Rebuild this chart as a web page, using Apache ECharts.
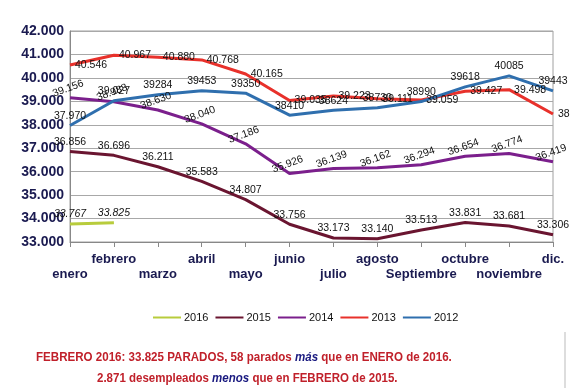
<!DOCTYPE html>
<html><head><meta charset="utf-8">
<script src="https://cdn.jsdelivr.net/npm/echarts@6/dist/echarts.min.js"></script>
<style>html,body{margin:0;padding:0;background:#fff}#c{width:570px;height:388px}</style>
</head><body><div id="c"></div>
<script>
const months = ['enero','febrero','marzo','abril','mayo','junio','julio','agosto','Septiembre','octubre','noviembre','dic.'];
const yTicks = [33000, 42000, 1000];
const s2016 = [33767, 33825];
const s2015 = [36856, 36696, 36211, 35583, 34807, 33756, 33173, 33140, 33513, 33831, 33681, 33306];
const s2014 = [39156, 38983, 38630, 38040, 37186, 35926, 36139, 36162, 36294, 36654, 36774, 36419];
const s2013 = [40546, 40967, 40880, 40768, 40165, 39035, 39223, 39111, 39059, 39427, 39498, 38459];
const s2012 = [37970, 39027, 39284, 39453, 39350, 38410, 38624, 38730, 38990, 39618, 40085, 39443];
const seriesNames = ['2016','2015','2014','2013','2012'];
const colors = ['#b8cc3c','#6a1530','#7b1f8c','#e8312b','#2f6fae'];

const fmt = v => { const s = String(Math.round(v)); return s.slice(0, s.length-3) + '.' + s.slice(-3); };
const chart = echarts.init(document.getElementById('c'));
const lblBase = {show:true, position:'top', color:'#111', fontSize:10.5, fontFamily:'Liberation Sans, Arial', distance:4};
function mk(name, data, color, extra) {
  return {name, type:'line', data, symbol:'circle', symbolSize:0, showSymbol:true, smooth:false,
    lineStyle:{width:3, color}, itemStyle:{color},
    labelLayout:{hideOverlap:false},
    label:Object.assign({}, lblBase, {formatter:p=>fmt(p.value)}, extra||{}), z: 3};
}
const richT = {r:{fill:'#c0202a', fontWeight:'bold', fontSize:13, fontFamily:'Liberation Sans, Arial'},
            b:{fill:'#1a1a80', fontWeight:'bold', fontStyle:'italic', fontSize:13, fontFamily:'Liberation Sans, Arial'}};
chart.setOption({
  animation:false,
  color: colors,
  grid:{left:70, right:17, top:31, bottom:146, show:true, borderColor:'#a0a0a0', borderWidth:1},
  legend:{left:148, top:307, itemWidth:28, itemHeight:2, itemGap:7, icon:'rect',
    textStyle:{fontSize:11, color:'#111', fontFamily:'Liberation Sans, Arial', padding:[0,0,0,-2]},
    data: seriesNames},
  xAxis:{type:'category', data:months, boundaryGap:false,
    axisLine:{lineStyle:{color:'#888'}}, axisTick:{show:true, length:5, lineStyle:{color:'#888'}, alignWithLabel:true},
    axisLabel:{interval:0, margin:10, color:'#1a1a50', fontWeight:'bold', fontSize:13, lineHeight:15,
      fontFamily:'Liberation Sans, Arial', verticalAlign:'top',
      formatter:(v,i)=> i%2===0 ? '\n'+v : v}},
  yAxis:{type:'value', min:yTicks[0], max:yTicks[1], interval:yTicks[2],
    axisLine:{show:true, lineStyle:{color:'#888'}},
    splitLine:{lineStyle:{color:'#a8a8a8'}},
    axisLabel:{color:'#1a1a50', fontWeight:'bold', fontSize:14, margin:6, fontFamily:'Liberation Sans, Arial', formatter:v=>fmt(v)}},
  series:[
    mk('2016', s2016, colors[0], {fontStyle:'italic'}),
    mk('2015', s2015, colors[1]),
    mk('2014', s2014, colors[2], {rotate:20}),
    mk('2013', s2013, colors[3], {position:'right', distance:5}),
    mk('2012', s2012, colors[4], {formatter:p=> p.dataIndex<2 ? fmt(p.value) : String(p.value)})
  ],
  graphic:[
    {type:'text', x:36, y:351, scaleX:0.89, style:{
      text:'{r|FEBRERO 2016: 33.825 PARADOS, 58 parados }{b|más}{r| que en ENERO de 2016.}', rich:richT}},
    {type:'text', x:97, y:372, scaleX:0.885, style:{
      text:'{r|2.871 desempleados }{b|menos}{r| que en FEBRERO de 2015.}', rich:richT}},
    {type:'line', shape:{x1:565, y1:332, x2:565, y2:388}, style:{stroke:'#bbb', lineWidth:1}}
  ]
});
</script></body></html>
